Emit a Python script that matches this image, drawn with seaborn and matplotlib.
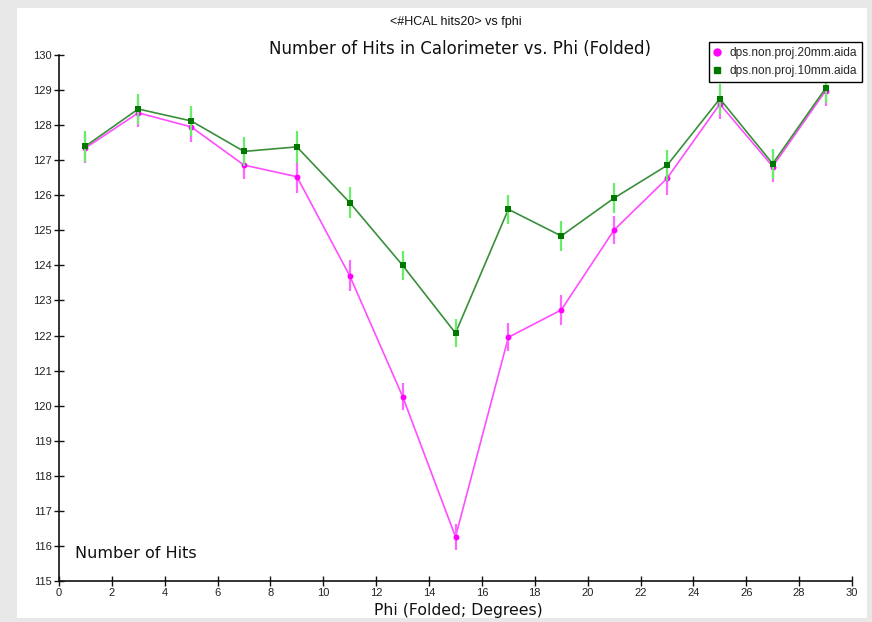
import numpy as np
import pandas as pd
import matplotlib
matplotlib.use("Agg")
import matplotlib.pyplot as plt
from matplotlib.lines import Line2D
from matplotlib.patches import Rectangle
import seaborn as sns

# Folded phi bins (degrees)
phi = [1, 3, 5, 7, 9, 11, 13, 15, 17, 19, 21, 23, 25, 27, 29]

# Mean number of calorimeter hits per bin, with statistical errors
hits_20mm = [127.35, 128.35, 127.95, 126.86, 126.53, 123.70, 120.26, 116.26,
             121.95, 122.73, 125.01, 126.48, 128.60, 126.82, 128.98]
err_20mm = [0.43, 0.39, 0.44, 0.40, 0.46, 0.44, 0.39, 0.37,
            0.40, 0.44, 0.40, 0.46, 0.43, 0.43, 0.43]
hits_10mm = [127.40, 128.46, 128.12, 127.25, 127.38, 125.79, 124.00, 122.07,
             125.60, 124.84, 125.92, 126.85, 128.75, 126.90, 129.05]
err_10mm = [0.44, 0.43, 0.43, 0.41, 0.45, 0.45, 0.41, 0.41,
            0.42, 0.42, 0.42, 0.43, 0.43, 0.43, 0.43]

series_names = ["dps.non.proj.20mm.aida", "dps.non.proj.10mm.aida"]
x_ticks = list(range(0, 31, 2))
y_ticks = list(range(115, 131))

df = pd.concat([
    pd.DataFrame({"phi": phi, "hits": hits_20mm, "err": err_20mm, "series": series_names[0]}),
    pd.DataFrame({"phi": phi, "hits": hits_10mm, "err": err_10mm, "series": series_names[1]}),
], ignore_index=True)

sns.set_style("white")
plt.rcParams["font.family"] = ["Liberation Sans", "DejaVu Sans"]

W, H = 872, 622
fig = plt.figure(figsize=(W / 100, H / 100), dpi=100, facecolor="#e8e8e8")

# white drawing panel on the grey frame
fig.add_artist(Rectangle((17 / W, 1 - 618 / H), (867 - 17) / W, (618 - 8) / H,
                         transform=fig.transFigure, facecolor="white",
                         edgecolor="none", zorder=-10))

ax = fig.add_axes([59 / W, 41 / H, (852 - 59) / W, (581 - 55) / H])
ax.set_facecolor("white")

styles = {
    series_names[0]: dict(line="#ff4dff", err="#ff66ff", mk="#ff00ff", marker="o", s=18),
    series_names[1]: dict(line="#3a8f3a", err="#66ee66", mk="#007800", marker="s", s=22),
}

z = 2
for name in series_names:
    st = styles[name]
    sub = df[df["series"] == name]
    sns.lineplot(data=sub, x="phi", y="hits", color=st["line"], lw=1.2,
                 ax=ax, legend=False, zorder=z)
    ax.errorbar(sub["phi"], sub["hits"], yerr=sub["err"], fmt="none",
                ecolor=st["err"], elinewidth=1.6, capsize=0, zorder=z + 1)
    sns.scatterplot(data=sub, x="phi", y="hits", color=st["mk"],
                    marker=st["marker"], s=st["s"], linewidth=0, ax=ax,
                    legend=False, zorder=z + 2)
    z += 3

ax.set_xlim(0, 30)
ax.set_ylim(115, 130)
ax.set_xticks(x_ticks)
ax.set_yticks(y_ticks)
ax.set_xlabel("")
ax.set_ylabel("")
for side in ("top", "right"):
    ax.spines[side].set_visible(False)
for side in ("left", "bottom"):
    ax.spines[side].set_color("#111111")
    ax.spines[side].set_linewidth(1.2)
ax.tick_params(bottom=True, left=True, direction="inout", length=7, width=1,
               color="#111111", labelsize=8, labelcolor="#222222", pad=1.5)
for art in ax.get_children():
    try:
        art.set_clip_on(False)
    except Exception:
        pass

# titles and axis labels
fig.text(456 / W, 1 - 22 / H, "<#HCAL hits20> vs fphi", ha="center", va="center",
         fontsize=9, color="#111111")
fig.text(460 / W, 1 - 49 / H, "Number of Hits in Calorimeter vs. Phi (Folded)",
         ha="center", va="center", fontsize=12, family="DejaVu Sans", color="#111111")
fig.text(75 / W, 1 - 553 / H, "Number of Hits", ha="left", va="center",
         fontsize=11.5, family="DejaVu Sans", color="#111111")
fig.text(458 / W, 1 - 611 / H, "Phi (Folded; Degrees)", ha="center", va="center",
         fontsize=11.3, family="DejaVu Sans", color="#111111")

handles = [
    Line2D([], [], ls="none", marker="o", color=styles[series_names[0]]["mk"], ms=5),
    Line2D([], [], ls="none", marker="s", color=styles[series_names[1]]["mk"], ms=5),
]
leg = fig.legend(handles, series_names, loc="upper left",
                 bbox_to_anchor=(709 / W, 1 - 42 / H), borderaxespad=0,
                 frameon=True, fancybox=False, framealpha=1, edgecolor="black",
                 prop={"size": 8.6}, handlelength=0.6, handletextpad=0.7,
                 labelspacing=0.55, borderpad=0.4)
leg.get_frame().set_linewidth(1.0)
leg.set_zorder(20)

fig.savefig("out.png", dpi=100, facecolor=fig.get_facecolor())
